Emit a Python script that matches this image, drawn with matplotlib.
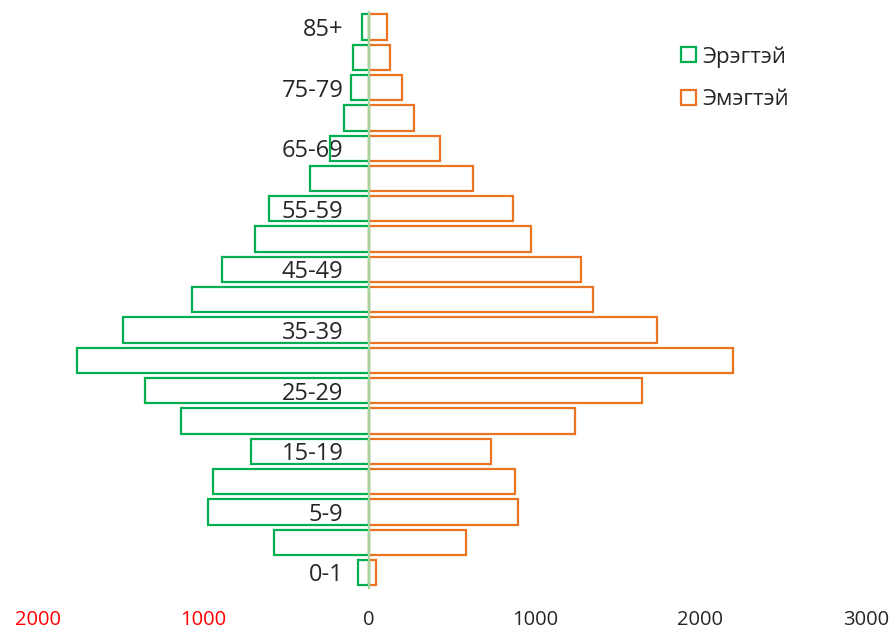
import matplotlib
matplotlib.use("Agg")
import matplotlib.pyplot as plt
from matplotlib.patches import Patch
import numpy as np

age_groups = ["0-1", "2-4", "5-9", "10-14", "15-19", "20-24", "25-29", "30-34",
              "35-39", "40-44", "45-49", "50-54", "55-59", "60-64", "65-69",
              "70-74", "75-79", "80-84", "85+"]
male = [65, 572, 972, 946, 714, 1137, 1354, 1764, 1486, 1069, 888, 688, 604,
        356, 237, 151, 110, 100, 44]
female = [40, 584, 896, 880, 733, 1242, 1647, 2196, 1735, 1349, 1278, 975, 870,
          628, 427, 272, 196, 125, 105]
x_ticks = [-2000, -1000, 0, 1000, 2000, 3000]
x_tick_labels = ["2000", "1000", "0", "1000", "2000", "3000"]
legend_labels = ["Эрэгтэй", "Эмэгтэй"]

GREEN = "#00b050"
ORANGE = "#eb7322"

plt.rcParams['font.family'] = ['Open Sans', 'DejaVu Sans']

fig = plt.figure(figsize=(8.96, 6.32), dpi=100)
W, H = 896, 632
left, right = 38 / W, 866 / W
top, bottom = 1 - 11.85 / H, 1 - 587.65 / H
ax = fig.add_axes([left, bottom, right - left, top - bottom])

y = np.arange(len(age_groups))
ax.barh(y, [-m for m in male], height=0.835, facecolor='none',
        edgecolor=GREEN, linewidth=1.6, zorder=2)
ax.barh(y, female, height=0.835, facecolor='none',
        edgecolor=ORANGE, linewidth=1.6, zorder=2)

ax.set_xlim(-2000, 3000)
ax.set_ylim(-0.5, len(age_groups) - 0.5)

for s in ['top', 'right', 'bottom']:
    ax.spines[s].set_visible(False)
ax.spines['left'].set_position(('data', 0))
ax.spines['left'].set_color('#a9d39e')
ax.spines['left'].set_linewidth(1.6)
ax.spines['left'].set_zorder(3)

ax.set_yticks(y)
ax.set_yticklabels([lab if i % 2 == 0 else '' for i, lab in enumerate(age_groups)],
                   fontsize=17, color='#262626')
ax.tick_params(axis='y', length=0, pad=18.5)

ax.set_xticks(x_ticks)
ax.set_xticklabels(x_tick_labels, fontsize=14.5)
for t, v in zip(ax.get_xticklabels(), x_ticks):
    t.set_color('#ff0000' if v < 0 else '#262626')
ax.tick_params(axis='x', length=0, pad=16)

handles = [Patch(facecolor='white', edgecolor=GREEN, linewidth=1.6),
           Patch(facecolor='white', edgecolor=ORANGE, linewidth=1.6)]
fig.legend(handles, legend_labels, loc='upper left',
           bbox_to_anchor=(681 / W, 1 - 46 / H), frameon=False,
           fontsize=16, handlelength=0.68, handleheight=0.68,
           handletextpad=0.3, labelspacing=0.97, borderpad=0, borderaxespad=0,
           labelcolor='#262626')

fig.savefig("out.png", dpi=100)
